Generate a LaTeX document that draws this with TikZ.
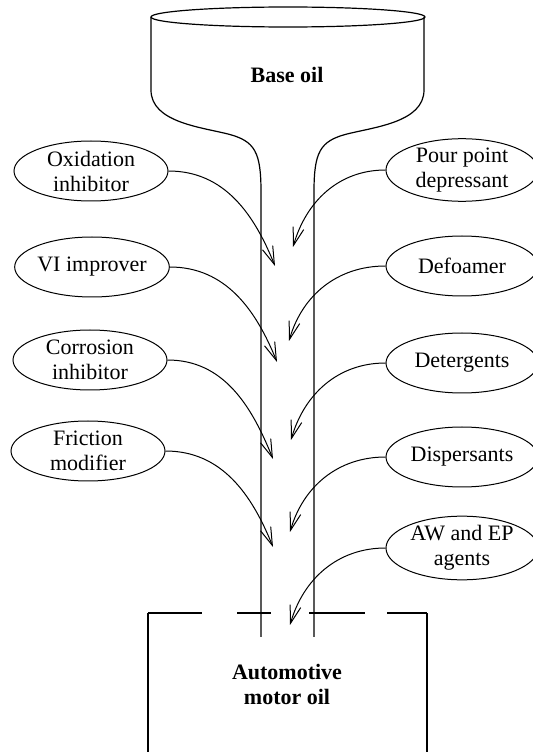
\documentclass[tikz,border=0pt]{standalone}
\usepackage{fontspec}
\setmainfont{Liberation Serif}
\usetikzlibrary{arrows.meta,shapes.geometric}
\tikzset{
  blend text/.style={font=\fontsize{11}{12.5}\selectfont, align=center},
  blend title/.style={font=\bfseries\fontsize{11}{12.5}\selectfont, align=center},
  blend wall/.style={draw=black, line width=.6pt},
  blend additive/.style={ellipse, draw=black, line width=.5pt, inner sep=0pt,
    minimum width=77pt, minimum height=30pt, blend text},
  blend feed/.style={draw=black, line width=.5pt, -{Straight Barb[length=9pt,width=5.5pt]}},
}

\begin{document}
\begin{tikzpicture}[x=.5pt,y=.5pt]
  \useasboundingbox (0,0) rectangle (532,752);

  % funnel with base oil
  \draw[blend wall] (288,735) ellipse [x radius=68.5pt, y radius=5pt];
  \draw[blend wall] (151,735) -- (151,662)
    .. controls (151,630) and (200,625) .. (228,618)
    .. controls (255,611) and (261,600) .. (261,560) -- (261,115);
  \draw[blend wall] (424,735) -- (424,662)
    .. controls (424,630) and (375,625) .. (347,618)
    .. controls (320,611) and (314,600) .. (314,560) -- (314,115);
  \node[blend title] (base) at (287,677) {Base oil};

  % container with motor oil
  \draw[blend wall] (148,0) -- (148,139);
  \draw[blend wall] (427,0) -- (427,139);
  \foreach \a/\b in {148/202,237/271,309/365,387/427}
    \draw[blend wall] (\a,139) -- (\b,139);
  \node[blend title] (motor) at (287,68) {Automotive\\motor oil};

  % additives, left side
  \node[blend additive] (oxid) at (91,581) {Oxidation\\inhibitor};
  \node[blend additive] (vi)   at (92,485) {VI improver};
  \node[blend additive] (corr) at (90,392) {Corrosion\\inhibitor};
  \node[blend additive] (fric) at (88,301) {Friction\\modifier};

  % additives, right side
  \node[blend additive, minimum width=76pt] (pour) at (462,582) {Pour point\\depressant};
  \node[blend additive, minimum width=76pt] (defo) at (462,486) {Defoamer};
  \node[blend additive, minimum width=76pt] (dete) at (462,389) {Detergents};
  \node[blend additive, minimum width=76pt] (disp) at (462,295) {Dispersants};
  \node[blend additive, minimum width=76pt] (awep) at (462,204) {AW and EP\\agents};

  % where each additive enters the stream
  \coordinate (in-oxid) at (275,486);
  \coordinate (in-vi)   at (277,390);
  \coordinate (in-corr) at (273,293);
  \coordinate (in-fric) at (273,205);
  \coordinate (in-pour) at (293,505);
  \coordinate (in-defo) at (289,411);
  \coordinate (in-dete) at (291,312);
  \coordinate (in-disp) at (290,220);
  \coordinate (in-awep) at (290,127);

  \foreach \n in {oxid,vi,corr,fric}
    \draw[blend feed] (\n.east) to[out=0,in=112] (in-\n);
  \foreach \n in {pour,defo,dete,disp,awep}
    \draw[blend feed] (\n.west) to[out=180,in=74] (in-\n);
\end{tikzpicture}
\end{document}
